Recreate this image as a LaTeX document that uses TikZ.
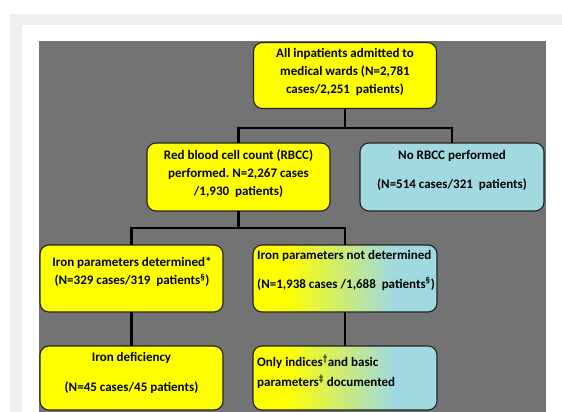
\documentclass[tikz,border=0pt]{standalone}
\usepackage{fontspec}
\setmainfont{Carlito}
\frenchspacing
\definecolor{bggray}{HTML}{737373}
\definecolor{framegray}{HTML}{EEEEEE}
\definecolor{boxyellow}{HTML}{FFFF00}
\definecolor{boxblue}{HTML}{A0DAE0}
\definecolor{edgecol}{HTML}{222222}
\pgfdeclarehorizontalshading{ybshade}{100bp}{color(0bp)=(boxyellow); color(34bp)=(boxyellow); color(63bp)=(boxblue); color(100bp)=(boxblue)}
\tikzset{
  flowbox/.style={draw=edgecol, line width=1.1pt, rounded corners=9pt, inner sep=0pt, outer sep=0pt},
  ybox/.style={flowbox, fill=boxyellow},
  bbox/.style={flowbox, fill=boxblue},
  gbox/.style={flowbox, shading=ybshade},
  link/.style={draw=black, line width=2.6pt},
  txt/.style={font=\bfseries\fontsize{13}{15}\selectfont, inner sep=0pt, text=black}
}
\begin{document}
\begin{tikzpicture}[x=1pt,y=-1pt]
\useasboundingbox (0,0) rectangle (562,412);
\fill[framegray] (10,14) rectangle (562,412);
\fill[white] (22,25) rectangle (562,412);
\fill[bggray] (39,41) rectangle (546,412);

% boxes
\node[ybox, minimum width=183pt, minimum height=66pt] (top) at (345,75.5) {};
\node[ybox, minimum width=183pt, minimum height=68pt] (rbcc) at (238.5,177) {};
\node[bbox, minimum width=184pt, minimum height=68pt] (norbcc) at (452,177) {};
\node[ybox, minimum width=183pt, minimum height=67pt] (irondet) at (131.5,278.5) {};
\node[gbox, minimum width=184pt, minimum height=67pt] (ironnot) at (345,278.5) {};
\node[ybox, minimum width=183pt, minimum height=64pt] (irondef) at (131.5,378) {};
\node[gbox, minimum width=184pt, minimum height=64pt] (indices) at (345,378) {};

% connectors
\coordinate (j1) at (345,128);
\coordinate (j2) at (238.5,228);
\draw[link] (top.south) -- (j1);
\draw[link] (rbcc.north) |- (j1) -| (norbcc.north);
\draw[link] (rbcc.south) -- (j2);
\draw[link] (irondet.north) |- (j2) -| (ironnot.north);
\draw[link] (irondet.south) -- (irondef.north);
\draw[link] (ironnot.south) -- (indices.north);

% texts
\node[txt, anchor=base] (t1) at (345,57.5) {All inpatients admitted to};
\node[txt, anchor=base] (t2) at (345,75.7) {medical wards (N=2,781};
\node[txt, anchor=base] (t3) at (345,93.5) {cases/2,251\ \ patients)};

\node[txt, anchor=base] (r1) at (238.5,159) {Red blood cell count (RBCC)};
\node[txt, anchor=base] (r2) at (238.5,177) {performed. N=2,267 cases};
\node[txt, anchor=base] (r3) at (238.5,195) {/1,930\ \ patients)};

\node[txt, anchor=base] (n1) at (452,159) {No RBCC performed};
\node[txt, anchor=base] (n2) at (452,188) {(N=514 cases/321\ \ patients)};

\node[txt, anchor=base] (d1) at (132,266) {Iron parameters determined*};
\node[txt, anchor=base] (d2) at (132,284.5) {(N=329 cases/319\ \ patients\textsuperscript{§})};

\node[txt, anchor=base west] (m1) at (257,259.5) {Iron parameters not determined};
\node[txt, anchor=base west] (m2) at (257,288) {(N=1,938 cases /1,688\ \ patients\textsuperscript{§})};

\node[txt, anchor=base] (f1) at (131.5,361) {Iron deficiency};
\node[txt, anchor=base] (f2) at (131.5,391) {(N=45 cases/45 patients)};

\node[txt, anchor=base west] (o1) at (257,366) {Only indices\textsuperscript{†}and basic};
\node[txt, anchor=base west] (o2) at (257,386) {parameters\textsuperscript{‡} documented};
\end{tikzpicture}
\end{document}
